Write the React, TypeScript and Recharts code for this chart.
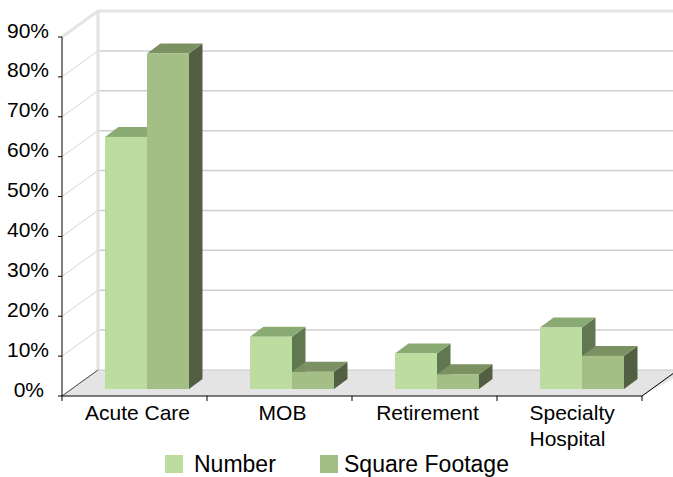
import React from 'react';
import { BarChart, Bar, XAxis, YAxis, CartesianGrid, ReferenceArea, Legend } from 'recharts';

const categories = ['Acute Care', 'MOB', 'Retirement', 'Specialty Hospital'];
const numberValues = [0.632, 0.131, 0.089, 0.154];
const sqftValues = [0.841, 0.043, 0.037, 0.083];
const yTicks = [0, 0.1, 0.2, 0.3, 0.4, 0.5, 0.6, 0.7, 0.8, 0.9];
const seriesNames = ['Number', 'Square Footage'];

const data = categories.map((name, i) => ({ name, number: numberValues[i], sqft: sqftValues[i] }));

const FONT = 'Liberation Sans, Arial, sans-serif';
// 3D projection constants
const WALL_DX = 36;
const WALL_DY = 26;
const BAR_DX = 12;
const BAR_DY = 7;
const DEPTH_DX = 13.5;
const DEPTH_DY = 10;

const numberColors = { front: '#bcdca0', top: '#8aaa74', side: '#617750' };
const sqftColors = { front: '#a3bf86', top: '#7b9162', side: '#525f42' };

const makeBar = (c: { front: string; top: string; side: string }) => (props: any) => {
  const { x, y, width, height } = props;
  if (width == null || height == null) return null;
  const fx = x + BAR_DX;
  const fy = y - BAR_DY;
  const top = `${fx},${fy} ${fx + DEPTH_DX},${fy - DEPTH_DY} ${fx + width + DEPTH_DX},${fy - DEPTH_DY} ${fx + width},${fy}`;
  const side = `${fx + width},${fy} ${fx + width + DEPTH_DX},${fy - DEPTH_DY} ${fx + width + DEPTH_DX},${fy + height - DEPTH_DY} ${fx + width},${fy + height}`;
  return (
    <g>
      <polygon points={side} fill={c.side} />
      <polygon points={top} fill={c.top} />
      <rect x={fx} y={fy} width={width} height={height} fill={c.front} />
    </g>
  );
};

const FloorShape = (props: any) => {
  const { x, y, width, height } = props;
  const by = y + height;
  const floor = `${x},${by} ${x + WALL_DX},${by - WALL_DY} ${x + width + WALL_DX + 10},${by - WALL_DY} ${x + width},${by}`;
  return (
    <g>
      <polygon points={floor} fill="#e4e4e4" />
      <line x1={x + WALL_DX} y1={y - WALL_DY} x2={x + WALL_DX} y2={by - WALL_DY} stroke="#e2e2e2" strokeWidth={3} />
      <line x1={x + WALL_DX} y1={by - WALL_DY} x2={x + width + WALL_DX + 10} y2={by - WALL_DY} stroke="#c8c8c8" strokeWidth={1} />
      <line x1={x} y1={by} x2={x + WALL_DX} y2={by - WALL_DY} stroke="#404040" strokeWidth={1} />
      <line x1={x + width} y1={by} x2={x + width + WALL_DX} y2={by - WALL_DY} stroke="#000" strokeWidth={1} />
    </g>
  );
};

const gridLine = (props: any) => {
  const { x1, y1, x2, index } = props;
  if (index === 0) return <g key={`g${index}`} />;
  const isTop = index === yTicks.length - 1;
  return (
    <g key={`g${index}`}>
      <line x1={x1} y1={y1} x2={x1 + WALL_DX} y2={y1 - WALL_DY} stroke={isTop ? '#e4e4e4' : '#d4d4d4'} strokeWidth={isTop ? 3 : 1} />
      <line x1={x1 + WALL_DX} y1={y1 - WALL_DY} x2={x2 + WALL_DX + 10} y2={y1 - WALL_DY} stroke={isTop ? '#e4e4e4' : '#cfcfcf'} strokeWidth={isTop ? 3 : 1.5} />
    </g>
  );
};

const YTick = (props: any) => {
  const { x, y, payload } = props;
  const shift = payload.value === 0 ? -5 : 0;
  return (
    <text x={x + shift} y={y - 7} textAnchor="end" dominantBaseline="central" fontSize={21} fill="#000" fontFamily={FONT}>
      {`${Math.round(payload.value * 100)}%`}
    </text>
  );
};

const XTick = (props: any) => {
  const { x, y, payload, index } = props;
  const half = payload.offset || 0;
  const multi = payload.value === 'Specialty Hospital';
  const lines = multi ? String(payload.value).split(' ') : [payload.value];
  const isLast = index === categories.length - 1;
  const tx = multi ? x - 40 : x + 3;
  return (
    <g>
      <line x1={x - half} y1={y - 8} x2={x - half} y2={y - 3} stroke="#000" />
      {isLast && <line x1={x + half} y1={y - 8} x2={x + half} y2={y - 3} stroke="#000" />}
      <text x={tx} y={y + 16} textAnchor={multi ? 'start' : 'middle'} fontSize={21} fill="#000" fontFamily={FONT}>
        {lines.map((l: string, i: number) => (
          <tspan key={i} x={tx} dy={i === 0 ? 0 : 26}>{l}</tspan>
        ))}
      </text>
    </g>
  );
};

const LegendContent = () => (
  <div style={{ position: 'relative', width: 673, height: 30, fontFamily: FONT }}>
    <div style={{ position: 'absolute', left: 165, top: 8, width: 18, height: 18, background: numberColors.front }} />
    <span style={{ position: 'absolute', left: 194, top: 8, lineHeight: '18px', fontSize: 23, color: '#000' }}>{seriesNames[0]}</span>
    <div style={{ position: 'absolute', left: 320, top: 8, width: 18, height: 18, background: sqftColors.front }} />
    <span style={{ position: 'absolute', left: 344, top: 8, lineHeight: '18px', fontSize: 23, color: '#000' }}>{seriesNames[1]}</span>
  </div>
);

export default function App() {
  return (
    <div style={{ position: 'absolute', left: 0, top: 0, width: 673, height: 477, background: '#fff', fontFamily: FONT }}>
      <BarChart width={673} height={477} data={data} margin={{ top: 37, right: 31, bottom: 0, left: 0 }} barSize={42} barGap={0}>
        <CartesianGrid vertical={false} horizontal={gridLine} />
        <ReferenceArea y1={0} y2={0.9} shape={FloorShape} ifOverflow="visible" />
        <XAxis dataKey="name" interval={0} tickLine={false} axisLine={{ stroke: '#000' }} height={51} tick={XTick} />
        <YAxis domain={[0, 0.9]} ticks={yTicks} width={62} tickSize={4} tickMargin={9} axisLine={{ stroke: '#000' }} tickLine={{ stroke: '#000' }} tick={YTick} />
        <Legend verticalAlign="bottom" content={LegendContent} wrapperStyle={{ left: 0, bottom: 0, width: 673, height: 30 }} />
        <Bar dataKey="number" name={seriesNames[0]} fill={numberColors.front} isAnimationActive={false} shape={makeBar(numberColors)} />
        <Bar dataKey="sqft" name={seriesNames[1]} fill={sqftColors.front} isAnimationActive={false} shape={makeBar(sqftColors)} />
      </BarChart>
    </div>
  );
}
